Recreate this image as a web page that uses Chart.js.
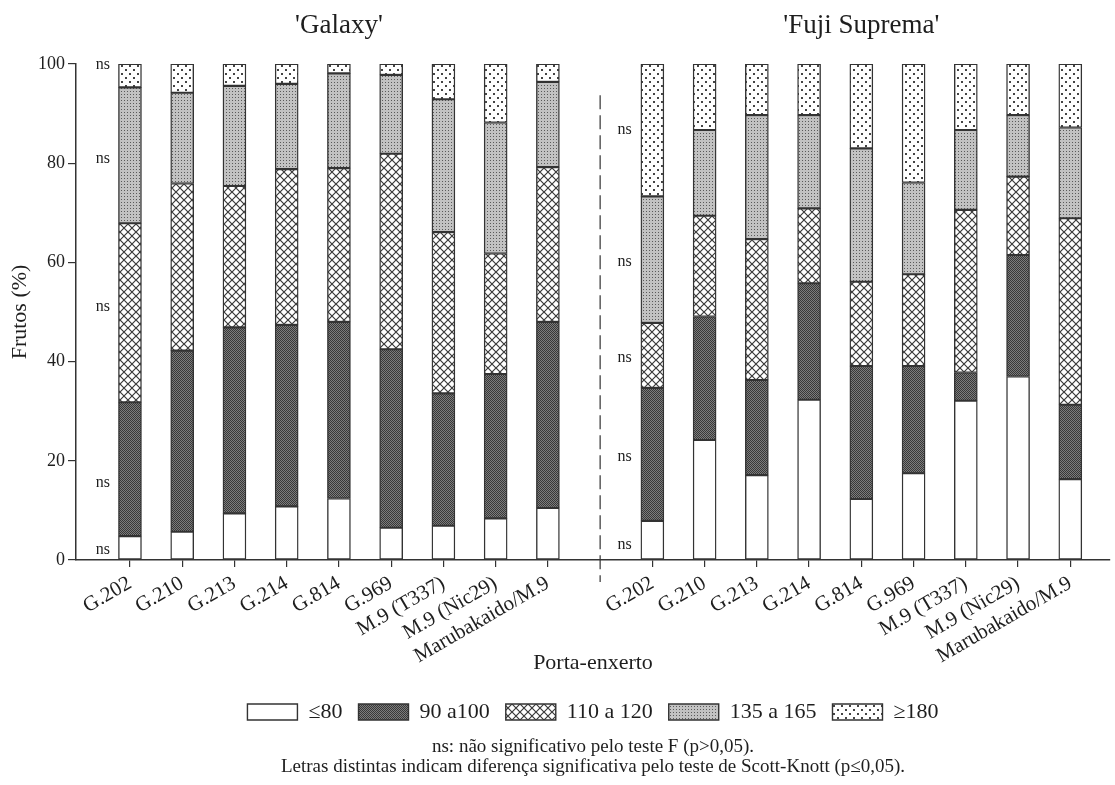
<!DOCTYPE html>
<html>
<head>
<meta charset="utf-8">
<script src="https://cdn.jsdelivr.net/npm/chart.js@4.4.1/dist/chart.umd.min.js"></script>
<style>
    html, body { margin: 0; padding: 0; background: #fff; }
    #wrap { position: relative; width: 1115px; height: 785px; }
</style>
</head>
<body>
<div id="wrap"><canvas id="frutosChart"></canvas></div>
<script>
const categories = ['G.202', 'G.210', 'G.213', 'G.214', 'G.814', 'G.969', 'M.9 (T337)', 'M.9 (Nic29)', 'Marubakaido/M.9'];
const classLabels = ['≤80', '90 a100', '110 a 120', '135 a 165', '≥180'];

// 'Galaxy' (%)
const galaxyAte80 = [4.8, 5.7, 9.4, 10.8, 12.4, 6.5, 6.9, 8.4, 10.5];
const galaxy90a100 = [27.0, 36.5, 37.5, 36.6, 35.6, 36.0, 26.7, 29.1, 37.5];
const galaxy110a120 = [36.1, 33.7, 28.5, 31.4, 31.0, 39.4, 32.5, 24.3, 31.2];
const galaxy135a165 = [27.4, 18.3, 20.2, 17.2, 19.1, 15.9, 26.8, 26.4, 17.2];
const galaxyAcima180 = [4.7, 5.8, 4.4, 4.0, 1.9, 2.2, 7.1, 11.8, 3.6];

// 'Fuji Suprema' (%)
const fujiAte80 = [7.9, 24.2, 17.1, 32.3, 12.3, 17.5, 32.1, 37.0, 16.3];
const fuji90a100 = [26.8, 24.9, 19.2, 23.5, 26.8, 21.6, 5.7, 24.5, 15.0];
const fuji110a120 = [13.1, 20.3, 28.4, 15.1, 17.0, 18.5, 32.8, 15.8, 37.6];
const fuji135a165 = [25.5, 17.3, 25.0, 18.8, 26.9, 18.5, 16.1, 12.4, 18.3];
const fujiAcima180 = [26.7, 13.3, 10.3, 10.3, 17.0, 23.9, 13.3, 10.3, 12.8];

// "ns" marks (y value of each label)
const nsGalaxy = [99.8, 80.8, 51.0, 15.5, 2.0];
const nsFuji = [86.7, 60.1, 40.7, 20.8, 3.0];

const notes = [
    'ns: não significativo pelo teste F (p>0,05).',
    'Letras distintas indicam diferença significativa pelo teste de Scott-Knott (p≤0,05).'
];

const FONT = '"Liberation Serif", "Times New Roman", serif';
const ink = '#1e1e1e';
const line = '#333';

function makePattern(size, draw) {
    const c = document.createElement('canvas');
    c.width = size;
    c.height = size;
    const g = c.getContext('2d');
    draw(g, size);
    return g.createPattern(c, 'repeat');
}

const fills = [
    '#ffffff',
    makePattern(2, (g) => {
        g.fillStyle = '#7c7c7c';
        g.fillRect(0, 0, 2, 2);
        g.fillStyle = '#383838';
        g.fillRect(0, 0, 1, 1);
        g.fillRect(1, 1, 1, 1);
    }),
    makePattern(8, (g, s) => {
        g.fillStyle = '#fff';
        g.fillRect(0, 0, s, s);
        g.strokeStyle = '#3a3a3a';
        g.lineWidth = 1.2;
        g.beginPath();
        g.moveTo(-1, -1); g.lineTo(s + 1, s + 1);
        g.moveTo(s + 1, -1); g.lineTo(-1, s + 1);
        g.stroke();
    }),
    makePattern(3, (g) => {
        g.fillStyle = '#c2c2c2';
        g.fillRect(0, 0, 3, 3);
        g.fillStyle = '#5a5a5a';
        g.fillRect(1, 1, 1, 1);
    }),
    makePattern(8, (g) => {
        g.fillStyle = '#fff';
        g.fillRect(0, 0, 8, 8);
        g.fillStyle = '#444';
        g.fillRect(1, 1, 2, 2);
        g.fillRect(5, 5, 2, 2);
    })
];

const galaxySeries = [galaxyAte80, galaxy90a100, galaxy110a120, galaxy135a165, galaxyAcima180];
const fujiSeries = [fujiAte80, fuji90a100, fuji110a120, fuji135a165, fujiAcima180];

// Galaxy at x = 0..8, divider at 9, Fuji at x = 10..18
const datasets = classLabels.map((label, k) => ({
    label: label,
    data: galaxySeries[k].map((v, i) => ({ x: i, y: v }))
        .concat(fujiSeries[k].map((v, i) => ({ x: i + 10, y: v }))),
    backgroundColor: fills[k],
    borderColor: line,
    borderWidth: 1.4,
    borderSkipped: false,
    barThickness: 23
}));

const tickPositions = categories.map((c, i) => i).concat(categories.map((c, i) => i + 10));

const annotations = {
    id: 'annotations',
    afterDraw(chart) {
        const { ctx, chartArea, scales: { x, y } } = chart;
        ctx.save();
        ctx.fillStyle = ink;
        ctx.textAlign = 'center';
        ctx.textBaseline = 'middle';

        ctx.font = '27px ' + FONT;
        ctx.fillText("'Galaxy'", x.getPixelForValue(4), chartArea.top - 38);
        ctx.fillText("'Fuji Suprema'", x.getPixelForValue(14), chartArea.top - 38);

        ctx.font = '16px ' + FONT;
        nsGalaxy.forEach(v => ctx.fillText('ns', x.getPixelForValue(-0.52), y.getPixelForValue(v)));
        nsFuji.forEach(v => ctx.fillText('ns', x.getPixelForValue(9.47), y.getPixelForValue(v)));

        // dashed divider between the two cultivars
        const xd = x.getPixelForValue(9);
        ctx.strokeStyle = line;
        ctx.lineWidth = 1.2;
        ctx.setLineDash([14, 6]);
        ctx.beginPath();
        ctx.moveTo(xd, y.getPixelForValue(93.7));
        ctx.lineTo(xd, chartArea.bottom + 22);
        ctx.stroke();
        ctx.setLineDash([]);

        ctx.font = '19px ' + FONT;
        const cx = (chartArea.left + chartArea.right) / 2;
        ctx.fillText(notes[0], cx, 747);
        ctx.fillText(notes[1], cx, 767);
        ctx.restore();
    }
};

const ctx = document.getElementById('frutosChart').getContext('2d');
new Chart(ctx, {
    type: 'bar',
    data: { datasets: datasets },
    plugins: [annotations],
    options: {
        responsive: true,
        maintainAspectRatio: false,
        animation: false,
        events: [],
        layout: {
            padding: { top: 64, right: 5, left: 0, bottom: 52 }
        },
        scales: {
            x: {
                type: 'linear',
                min: -1.033,
                max: 18.76,
                stacked: true,
                offset: false,
                afterBuildTicks: (scale) => {
                    scale.ticks = tickPositions.map(v => ({ value: v }));
                },
                afterFit: (scale) => { scale.height = 125; },
                ticks: {
                    autoSkip: false,
                    minRotation: 30,
                    maxRotation: 30,
                    padding: 4,
                    color: ink,
                    font: { family: FONT, size: 21 },
                    callback: (v) => v < 9 ? categories[v] : categories[v - 10]
                },
                grid: {
                    offset: false,
                    drawOnChartArea: false,
                    tickLength: 7,
                    color: line,
                    lineWidth: 1.2
                },
                border: { color: line, width: 1.5 },
                title: {
                    display: true,
                    text: 'Porta-enxerto',
                    color: ink,
                    font: { family: FONT, size: 22 },
                    padding: { top: 0, bottom: 9 }
                }
            },
            y: {
                min: 0,
                max: 100,
                stacked: true,
                afterFit: (scale) => { scale.width = 76; },
                ticks: {
                    stepSize: 20,
                    padding: 3,
                    color: ink,
                    font: { family: FONT, size: 18 }
                },
                grid: {
                    drawOnChartArea: false,
                    tickLength: 8,
                    color: line,
                    lineWidth: 1.2
                },
                border: { color: line, width: 1.5 },
                title: {
                    display: true,
                    text: 'Frutos (%)',
                    color: ink,
                    font: { family: FONT, size: 22 },
                    padding: { top: 7, bottom: 4 }
                }
            }
        },
        plugins: {
            legend: {
                position: 'bottom',
                fullSize: false,
                labels: {
                    boxWidth: 50,
                    boxHeight: 16,
                    padding: 16,
                    color: ink,
                    font: { family: FONT, size: 22 }
                }
            },
            tooltip: { enabled: false },
            title: { display: false }
        }
    }
});
</script>
</body>
</html>
